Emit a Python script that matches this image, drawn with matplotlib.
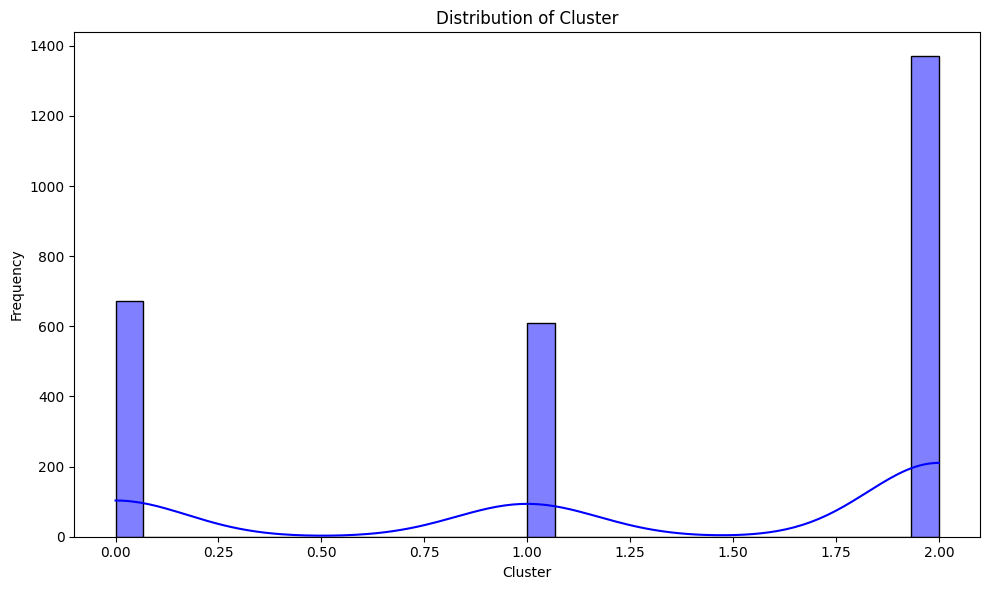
import numpy as np
import matplotlib
matplotlib.use("Agg")
import matplotlib.pyplot as plt
import seaborn as sns

clusters = [0, 1, 2]
counts = [672, 610, 1370]

data = np.repeat(clusters, counts)

fig, ax = plt.subplots(figsize=(10, 6), dpi=100)
sns.histplot(data, bins=30, kde=True, color="blue", ax=ax)
ax.set_title("Distribution of Cluster")
ax.set_xlabel("Cluster")
ax.set_ylabel("Frequency")
fig.tight_layout()
fig.savefig("out.png", dpi=100, bbox_inches="tight")
